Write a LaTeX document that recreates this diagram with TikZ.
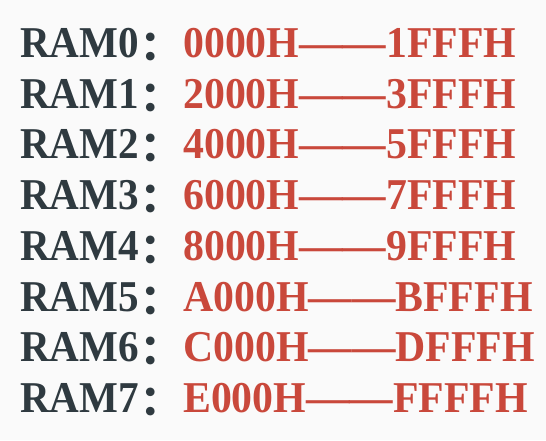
\documentclass[tikz,border=0pt]{standalone}
\usepackage{fontspec}
\setmainfont{Liberation Serif}[FakeStretch=0.935]
\newfontfamily\redfont{Liberation Serif}[FakeStretch=0.95]
\newfontfamily\cjk{Noto Sans CJK SC}
\definecolor{darktxt}{HTML}{2F3A40}
\definecolor{redtxt}{HTML}{C9483B}
\definecolor{bg}{HTML}{FAFAFA}
\newcommand{\widedash}{\scalebox{1.04}[1]{——}}
\tikzset{
  lbl/.style={anchor=base west, inner sep=0pt, text=darktxt, font=\fontsize{44}{44}\selectfont\bfseries},
  colon/.style={anchor=base west, inner sep=0pt, text=darktxt, font=\fontsize{41}{41}\selectfont\cjk\bfseries},
  addr/.style={anchor=base west, inner sep=0pt, text=redtxt, font=\fontsize{44}{44}\selectfont\redfont\bfseries},
}
\begin{document}
\begin{tikzpicture}[x=1pt,y=-1pt]
\fill[bg] (0,0) rectangle (546,440);
\useasboundingbox (0,0) rectangle (546,440);
\foreach \i/\a/\b in {0/0000H/1FFFH,1/2000H/3FFFH,2/4000H/5FFFH,3/6000H/7FFFH,4/8000H/9FFFH,5/A000H/BFFFH,6/C000H/DFFFH,7/E000H/FFFFH}{
  \pgfmathsetmacro\yy{57.5+50.7*\i}
  \node[lbl] (ram\i) at (20,\yy) {RAM\i};
  \node[colon, yshift=-3pt] (col\i) at (140,\yy) {：};
  \node[addr] (adr\i) at (183,\yy) {\a\widedash\b};
}
\end{tikzpicture}
\end{document}
